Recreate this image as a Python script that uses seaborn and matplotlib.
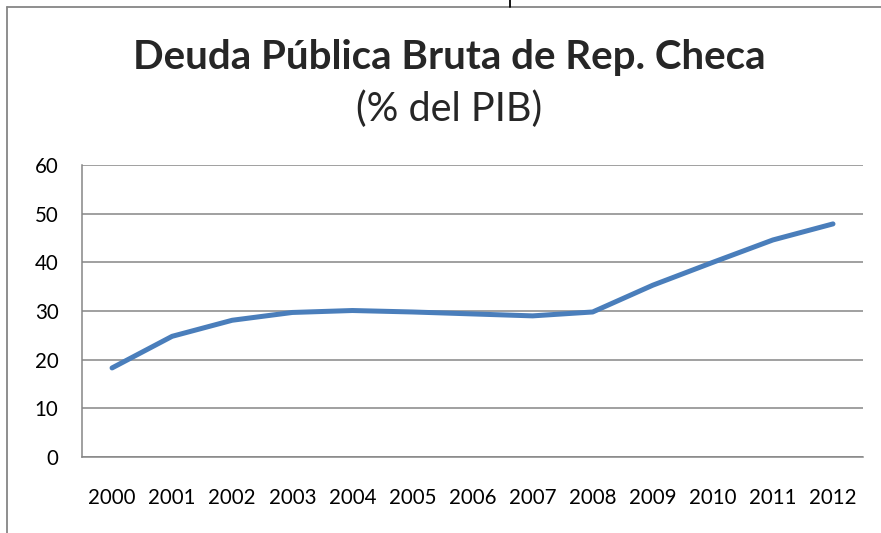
import pandas as pd
import seaborn as sns
import matplotlib.pyplot as plt
from matplotlib.lines import Line2D

# Datos: deuda pública bruta (% del PIB)
anios = ['2000', '2001', '2002', '2003', '2004', '2005', '2006',
         '2007', '2008', '2009', '2010', '2011', '2012']
deuda = [18.3, 24.8, 28.1, 29.7, 30.1, 29.8, 29.4, 29.0, 29.8, 35.3, 40.0, 44.6, 47.9]

df = pd.DataFrame({'anio': anios, 'deuda': deuda})

sns.set_style('white')
plt.rcParams['font.family'] = ['Lato', 'DejaVu Sans']

fig = plt.figure(figsize=(8.81, 5.33), dpi=100)
ax = fig.add_axes([0.0931, 0.1426, 0.8865, 0.5478])

sns.lineplot(data=df, x='anio', y='deuda', ax=ax, color='#4A7EBB',
             linewidth=3.6, solid_capstyle='round', solid_joinstyle='round')

ax.set_xlim(-0.5, 12.5)
ax.set_ylim(0, 60)
ax.set_yticks(range(0, 61, 10))
ax.grid(axis='y', color='#868686', linewidth=1.1)
ax.set_axisbelow(True)
for s in ['top', 'right']:
    ax.spines[s].set_visible(False)
for s in ['left', 'bottom']:
    ax.spines[s].set_color('#868686')
    ax.spines[s].set_linewidth(1.1)
ax.tick_params(axis='both', length=0, labelsize=14.8, colors='black')
ax.tick_params(axis='y', pad=17)
ax.tick_params(axis='x', pad=22)
ax.set_xlabel('')
ax.set_ylabel('')

fig.text(0.51, 0.893, 'Deuda Pública Bruta de Rep. Checa', ha='center', va='center',
         fontsize=29, fontweight='bold')
fig.text(0.51, 0.795, '(% del PIB)', ha='center', va='center', fontsize=28.5)

# borde del gráfico
fig.add_artist(Line2D([7 / 881, 7 / 881], [0, 1 - 7 / 533], color='#868686', linewidth=1.3))
fig.add_artist(Line2D([7 / 881, 1], [1 - 7 / 533, 1 - 7 / 533], color='#868686', linewidth=1.3))
fig.add_artist(Line2D([510 / 881, 510 / 881], [1, 1 - 7 / 533], color='black', linewidth=1.3))

fig.savefig('out.png', dpi=100)
